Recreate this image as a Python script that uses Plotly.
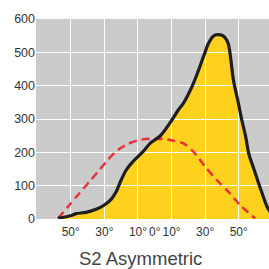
import plotly.graph_objects as go

# Black solid curve (S2 asymmetric) — angle (deg, signed) vs value
black_x = [-57.6, -50.8, -46.8, -40.9, -34.9, -30, -26, -23, -20, -17, -13, -7, -2.8, 3.2, 9.3, 14, 17, 23, 29, 32, 35, 37.5, 40, 42, 43.8, 45, 46.8, 49.8, 51.8, 54, 56, 59, 63, 67, 70]
black_y = [2, 9, 16, 20, 29, 42, 59, 82, 117, 147, 172, 202, 227, 249, 290, 327, 347, 407, 487, 527, 549, 553, 551, 543, 525, 490, 417, 347, 297, 250, 195, 150, 90, 35, 12]

# Red dashed curve (symmetric reference)
red_x = [-57.6, -50.8, -44.9, -38.9, -33, -28, -22, -16, -9.2, -1.2, 4.5, 9.1, 17, 23, 30, 36.9, 43.8, 50.8, 59.7]
red_y = [2, 42, 77, 112, 147, 177, 207, 225, 237, 241, 240, 237, 227, 202, 157, 117, 82, 42, 2]

x_tickvals = [-50, -30, -10, 0, 10, 30, 50]
x_ticktext = ["50°", "30°", "10°", "0°", "10°", "30°", "50°"]
x_gridvals = [-50, -30, -10, 10, 30, 50]
y_tickvals = [0, 100, 200, 300, 400, 500, 600]
title_text = "S2 Asymmetric"

XR = [-70.7, 68]
YR = [0, 600]

fig = go.Figure()
# fill on lower subplot
fig.add_trace(go.Scatter(x=black_x, y=black_y, mode="lines", line=dict(width=0, shape="spline", smoothing=0.8),
                         fill="tozeroy", fillcolor="#FFD11F", xaxis="x", yaxis="y", hoverinfo="skip"))
# lines on upper subplot (above grid)
fig.add_trace(go.Scatter(x=red_x, y=red_y, mode="lines",
                         line=dict(color="#E8313A", width=2.5, dash="8px,5px", shape="spline", smoothing=0.8),
                         xaxis="x2", yaxis="y2"))
fig.add_trace(go.Scatter(x=black_x, y=black_y, mode="lines",
                         line=dict(color="#1E1E1E", width=3.2, shape="spline", smoothing=0.8),
                         xaxis="x2", yaxis="y2"))

font = dict(family="Liberation Sans, Arial, sans-serif", size=12.5, color="#333333")

fig.update_layout(
    width=269, height=269,
    margin=dict(l=36, r=0, t=19, b=50),
    paper_bgcolor="white",
    plot_bgcolor="rgba(0,0,0,0)",
    showlegend=False,
    font=font,
    xaxis=dict(domain=[0, 1], range=XR, visible=False, anchor="y"),
    yaxis=dict(domain=[0, 1], range=YR, visible=False, anchor="x"),
    xaxis2=dict(domain=[0, 1], range=XR, anchor="y2", tickmode="array", tickvals=x_tickvals,
                ticktext=x_ticktext, showgrid=False, zeroline=False, showline=False, ticks="",
                tickangle=0, automargin=False, ticklabelstandoff=4,
                tickfont=dict(size=12, color="#333333"),
                minor=dict(tickmode="array", tickvals=x_gridvals, showgrid=True, gridcolor="white",
                           gridwidth=1.3, ticks="")),
    yaxis2=dict(domain=[0, 1], range=YR, anchor="x2", tickmode="array", tickvals=y_tickvals,
                showgrid=True, gridcolor="white", gridwidth=1.3, zeroline=False, showline=False,
                ticks="", automargin=False, tickfont=dict(size=12.5, color="#333333")),
    shapes=[dict(type="rect", xref="paper", yref="paper", x0=0, x1=1, y0=0, y1=1,
                 fillcolor="#CBCBCB", line=dict(width=0), layer="below")],
    annotations=[dict(text=title_text, xref="paper", yref="paper", x=0.45, y=-0.195,
                      xanchor="center", yanchor="middle", showarrow=False,
                      font=dict(family="Liberation Sans, Arial, sans-serif", size=18.5, color="#444444"))],
)

fig.write_html("out.html", config={"displayModeBar": False},
               post_script="document.body.style.margin='0';document.body.style.overflow='hidden';")
